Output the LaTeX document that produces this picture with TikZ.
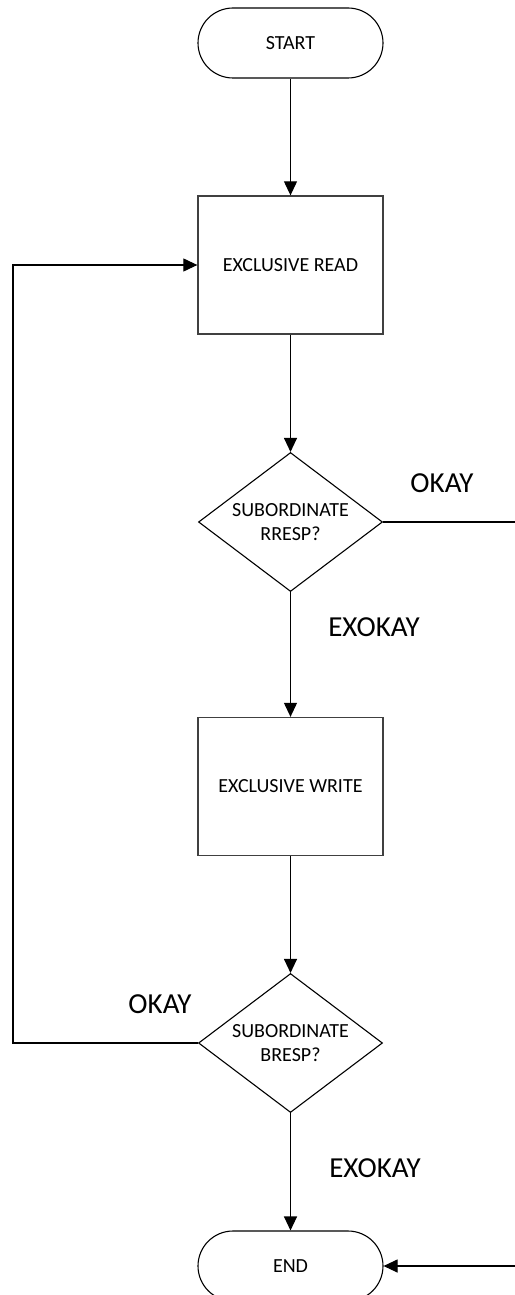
\documentclass[tikz,border=0pt]{standalone}
\usepackage{fontspec}
\setmainfont{Carlito}
\usetikzlibrary{shapes.geometric,arrows.meta}

\tikzset{
  terminal/.style={draw=black, line width=1.1pt, fill=white, rectangle,
    rounded corners=35pt, minimum width=185pt, minimum height=70pt,
    inner sep=0pt, font=\fontsize{20}{24}\selectfont},
  process/.style={draw=black!75, line width=1.3pt, fill=white, rectangle,
    minimum width=185pt, minimum height=138pt, inner sep=0pt,
    font=\fontsize{20}{24}\selectfont},
  decision/.style={draw=black, line width=1.1pt, fill=white, diamond,
    shape aspect=1.324, minimum width=184pt, minimum height=139pt,
    inner sep=0pt, align=center, font=\fontsize{20}{24}\selectfont},
  flow/.style={draw=black, line width=1.1pt,
    -{Triangle[length=14pt,width=13pt]}},
  wire/.style={draw=black, line width=1.1pt},
  branch/.style={font=\fontsize{29}{34}\selectfont, inner sep=0pt}
}

\begin{document}
\begin{tikzpicture}[x=1pt, y=-1pt]
  \useasboundingbox (0,0) rectangle (514,1295);

  % main column of steps
  \node[terminal] (start) at (290.5,43) {START};
  \node[process]  (read)  at (290.5,265) {EXCLUSIVE READ};
  \node[decision] (rresp) at (290.5,522) {SUBORDINATE\\RRESP?};
  \node[process]  (write) at (290.5,786.5) {EXCLUSIVE WRITE};
  \node[decision] (bresp) at (290.5,1043) {SUBORDINATE\\BRESP?};
  \node[terminal] (end)   at (290.5,1266) {END};

  % outlets running off the right edge
  \coordinate (rout) at (520,522);
  \coordinate (rin)  at (520,1266);
  % corners of the retry loop
  \coordinate (lbot) at (13,1043);
  \coordinate (ltop) at (13,265);

  % straight-down flow
  \draw[flow] (start) -- (read);
  \draw[flow] (read) -- (rresp);
  \draw[flow] (rresp) -- (write);
  \draw[flow] (write) -- (bresp);
  \draw[flow] (bresp) -- (end);

  % OKAY after read goes out to the right and back into END
  \draw[wire] (rresp.east) -- (rout);
  \draw[flow] (rin) -- (end.east);

  % OKAY after write loops back to the read
  \draw[flow] (bresp.west) -- (lbot) -- (ltop) -- (read.west);

  % branch labels
  \node[branch] (okay1)   at (442,483)  {OKAY};
  \node[branch] (exokay1) at (374,627)  {EXOKAY};
  \node[branch] (okay2)   at (160,1004) {OKAY};
  \node[branch] (exokay2) at (375,1168) {EXOKAY};
\end{tikzpicture}
\end{document}
